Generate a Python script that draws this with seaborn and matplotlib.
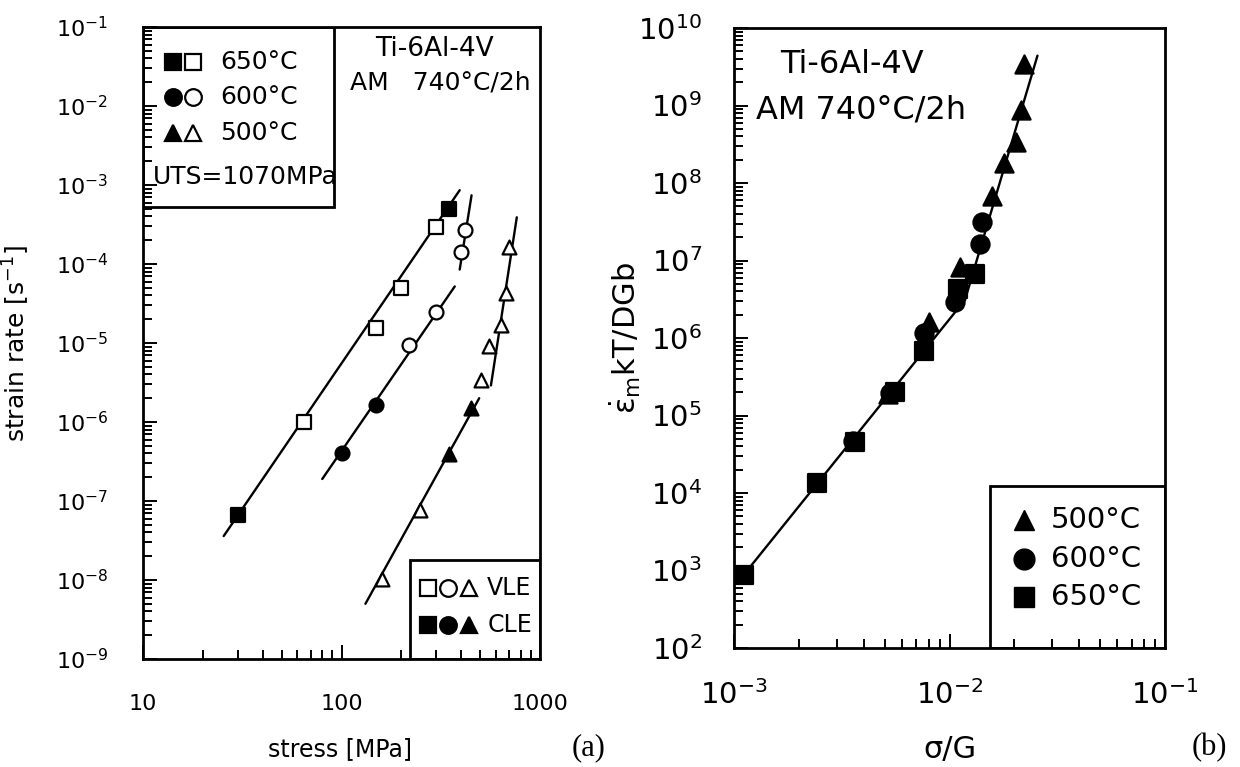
import matplotlib
matplotlib.use('Agg')
import matplotlib.pyplot as plt
import seaborn as sns
import numpy as np
from matplotlib.patches import Rectangle
from matplotlib.ticker import LogLocator, FuncFormatter, LogFormatterSciNotation, NullFormatter

# ---- (a) strain rate vs stress ----
stress_650_vle = [65, 150, 200, 300]
rate_650_vle = [1.0e-6, 1.55e-5, 5.0e-5, 2.9e-4]
stress_650_cle = [30, 350]
rate_650_cle = [6.7e-8, 5.0e-4]

stress_600_vle = [220, 300, 400, 420]
rate_600_vle = [9.3e-6, 2.5e-5, 1.4e-4, 2.7e-4]
stress_600_cle = [100, 150]
rate_600_cle = [4.1e-7, 1.65e-6]

stress_500_vle = [160, 250, 505, 556, 635, 673, 698]
rate_500_vle = [1.03e-8, 7.7e-8, 3.4e-6, 9.2e-6, 1.7e-5, 4.3e-5, 1.65e-4]
stress_500_cle = [350, 448]
rate_500_cle = [3.95e-7, 1.5e-6]

# fitted lines (end points)
fit_650_x = [25.5, 394]
fit_650_y = [3.6e-8, 8.6e-4]
fit_600_lo_x = [80, 372]
fit_600_lo_y = [1.9e-7, 5.2e-5]
fit_600_hi_x = [394, 452]
fit_600_hi_y = [8.5e-5, 7.4e-4]
fit_500_lo_x = [132, 494]
fit_500_lo_y = [5.0e-9, 2.0e-6]
fit_500_hi_x = [566, 764]
fit_500_hi_y = [2.9e-6, 3.9e-4]

# ---- (b) normalised rate vs sigma/G ----
sg_500 = [0.0052, 0.0080, 0.0112, 0.0158, 0.0179, 0.0203, 0.0214, 0.0221]
nr_500 = [1.9e5, 1.6e6, 8.3e6, 6.8e7, 1.79e8, 3.4e8, 8.7e8, 3.47e9]
sg_600 = [0.00355, 0.0053, 0.0076, 0.0106, 0.0139, 0.0142]
nr_600 = [4.7e4, 1.95e5, 1.15e6, 2.9e6, 1.65e7, 3.16e7]
sg_650 = [0.00111, 0.00242, 0.00366, 0.0056, 0.0076, 0.0110, 0.0131]
nr_650 = [885, 1.35e4, 4.6e4, 2.04e5, 6.7e5, 4.3e6, 6.6e6]

fit_b_lo_x = [0.00111, 0.0118]
fit_b_lo_y = [880, 3.1e6]
fit_b_hi_x = [0.0118, 0.0256]
fit_b_hi_y = [3.1e6, 4.4e9]

sns.set_theme(style='white')
plt.rcParams['font.family'] = ['DejaVu Sans']
plt.rcParams['mathtext.fontset'] = 'dejavusans'
for k in ['text.color', 'axes.labelcolor', 'xtick.color', 'ytick.color', 'axes.edgecolor']:
    plt.rcParams[k] = 'black'

fig = plt.figure(figsize=(12.4, 7.67), dpi=100)
axL = fig.add_axes([143 / 1240, 1 - 659 / 767, 397 / 1240, 632 / 767])
axR = fig.add_axes([734 / 1240, 1 - 648 / 767, 431 / 1240, 620 / 767])

LW = 2.0


def style_axes(ax, lab_size, pad):
    ax.set_xscale('log')
    ax.set_yscale('log')
    for s in ax.spines.values():
        s.set_linewidth(LW)
        s.set_color('black')
    ax.tick_params(which='both', direction='in', top=False, right=False,
                   left=True, bottom=True, color='black', width=1.4)
    ax.tick_params(which='major', length=10, labelsize=lab_size, pad=pad)
    ax.tick_params(which='minor', length=6.5)
    ax.xaxis.set_major_locator(LogLocator(base=10, numticks=20))
    ax.yaxis.set_major_locator(LogLocator(base=10, numticks=20))
    ax.xaxis.set_minor_locator(LogLocator(base=10, subs=np.arange(2, 10), numticks=20))
    ax.yaxis.set_minor_locator(LogLocator(base=10, subs=np.arange(2, 10), numticks=20))
    ax.xaxis.set_minor_formatter(NullFormatter())
    ax.yaxis.set_minor_formatter(NullFormatter())
    ax.grid(False)
    ax.set_facecolor('white')


def pts(ax, x, y, marker, filled, s):
    sns.scatterplot(x=x, y=y, ax=ax, marker=marker, s=s,
                    facecolor='black' if filled else 'white',
                    edgecolor='black', linewidth=1.6, zorder=4, legend=False)


def fit(ax, x, y):
    sns.lineplot(x=x, y=y, ax=ax, color='black', linewidth=1.7, zorder=3,
                 estimator=None, sort=False, legend=False)


# ---------------- panel (a) ----------------
for fx, fy in [(fit_650_x, fit_650_y), (fit_600_lo_x, fit_600_lo_y),
               (fit_600_hi_x, fit_600_hi_y), (fit_500_lo_x, fit_500_lo_y),
               (fit_500_hi_x, fit_500_hi_y)]:
    fit(axL, fx, fy)

msA = 100
pts(axL, stress_650_vle, rate_650_vle, 's', False, msA)
pts(axL, stress_650_cle, rate_650_cle, 's', True, msA)
pts(axL, stress_600_vle, rate_600_vle, 'o', False, msA)
pts(axL, stress_600_cle, rate_600_cle, 'o', True, msA)
pts(axL, stress_500_vle, rate_500_vle, '^', False, msA)
pts(axL, stress_500_cle, rate_500_cle, '^', True, msA)

style_axes(axL, 16, 25)
axL.set_xlim(10, 1000)
axL.set_ylim(1e-9, 1e-1)
axL.xaxis.set_major_formatter(FuncFormatter(lambda v, _: f'{v:g}'))
axL.yaxis.set_major_formatter(LogFormatterSciNotation())
axL.set_xlabel('stress [MPa]', fontsize=17)
axL.set_ylabel('strain rate [s$^{-1}$]', fontsize=18)
axL.xaxis.set_label_coords(0.496, -0.123)
axL.yaxis.set_label_coords(-0.28, 0.5)

# legend boxes (a)
T = axL.transAxes
axL.add_patch(Rectangle((0, 0.715), 0.481, 0.285, transform=T, fill=False,
                        edgecolor='black', linewidth=LW, zorder=5))
axL.add_patch(Rectangle((0.673, 0), 0.327, 0.157, transform=T, fill=False,
                        edgecolor='black', linewidth=LW, zorder=5))
key_rows = [('s', '650°C', 0.945), ('o', '600°C', 0.889), ('^', '500°C', 0.833)]
for m, lab, yy in key_rows:
    axL.plot([0.0756], [yy], marker=m, ms=12, mfc='black', mec='black',
             mew=1.6, transform=T, clip_on=False, ls='none')
    axL.plot([0.126], [yy], marker=m, ms=12, mfc='white', mec='black',
             mew=1.6, transform=T, clip_on=False, ls='none')
    axL.text(0.194, yy, lab, transform=T, fontsize=18, va='center', ha='left')
axL.text(0.025, 0.762, 'UTS=1070MPa', transform=T, fontsize=18, va='center', ha='left')
axL.text(0.734, 0.965, 'Ti-6Al-4V', transform=T, fontsize=19, va='center', ha='center')
axL.text(0.749, 0.912, 'AM   740°C/2h', transform=T, fontsize=18, va='center', ha='center')
for i, m in enumerate(['s', 'o', '^']):
    axL.plot([0.719 + 0.0505 * i], [0.112], marker=m, ms=12, mfc='white',
             mec='black', mew=1.6, transform=T, ls='none')
    axL.plot([0.719 + 0.0505 * i], [0.0535], marker=m, ms=12, mfc='black',
             mec='black', mew=1.6, transform=T, ls='none')
axL.text(0.867, 0.112, 'VLE', transform=T, fontsize=17, va='center', ha='left')
axL.text(0.867, 0.0535, 'CLE', transform=T, fontsize=17, va='center', ha='left')

# ---------------- panel (b) ----------------
fit(axR, fit_b_lo_x, fit_b_lo_y)
fit(axR, fit_b_hi_x, fit_b_hi_y)
msB = 170
pts(axR, sg_650, nr_650, 's', True, msB)
pts(axR, sg_600, nr_600, 'o', True, msB)
pts(axR, sg_500, nr_500, '^', True, msB)

style_axes(axR, 21, 23)
axR.set_xlim(1e-3, 1e-1)
axR.set_ylim(1e2, 1e10)
axR.xaxis.set_major_formatter(LogFormatterSciNotation())
axR.yaxis.set_major_formatter(LogFormatterSciNotation())
axR.set_xlabel('σ/G', fontsize=22)
axR.set_ylabel(r'$\dot{\mathrm{\varepsilon}}_{\mathrm{m}}$kT/DGb', fontsize=22)
axR.xaxis.set_label_coords(0.501, -0.14)
axR.yaxis.set_label_coords(-0.211, 0.5)

TR = axR.transAxes
axR.add_patch(Rectangle((0.594, 0), 0.406, 0.261, transform=TR, fill=False,
                        edgecolor='black', linewidth=LW, zorder=5))
for m, lab, yy in [('^', '500°C', 0.2065), ('o', '600°C', 0.144), ('s', '650°C', 0.0815)]:
    axR.plot([0.672], [yy], marker=m, ms=15, mfc='black', mec='black',
             transform=TR, ls='none')
    axR.text(0.736, yy, lab, transform=TR, fontsize=21, va='center', ha='left')
axR.text(0.107, 0.9415, 'Ti-6Al-4V', transform=TR, fontsize=23, va='center', ha='left')
axR.text(0.052, 0.867, 'AM 740°C/2h', transform=TR, fontsize=23, va='center', ha='left')

fig.text(589 / 1240, 1 - 748 / 767, '(a)', fontsize=22, family='Liberation Serif',
         ha='center', va='center')
fig.text(1209 / 1240, 1 - 748 / 767, '(b)', fontsize=22, family='Liberation Serif',
         ha='center', va='center')

fig.savefig('out.png', dpi=100)
